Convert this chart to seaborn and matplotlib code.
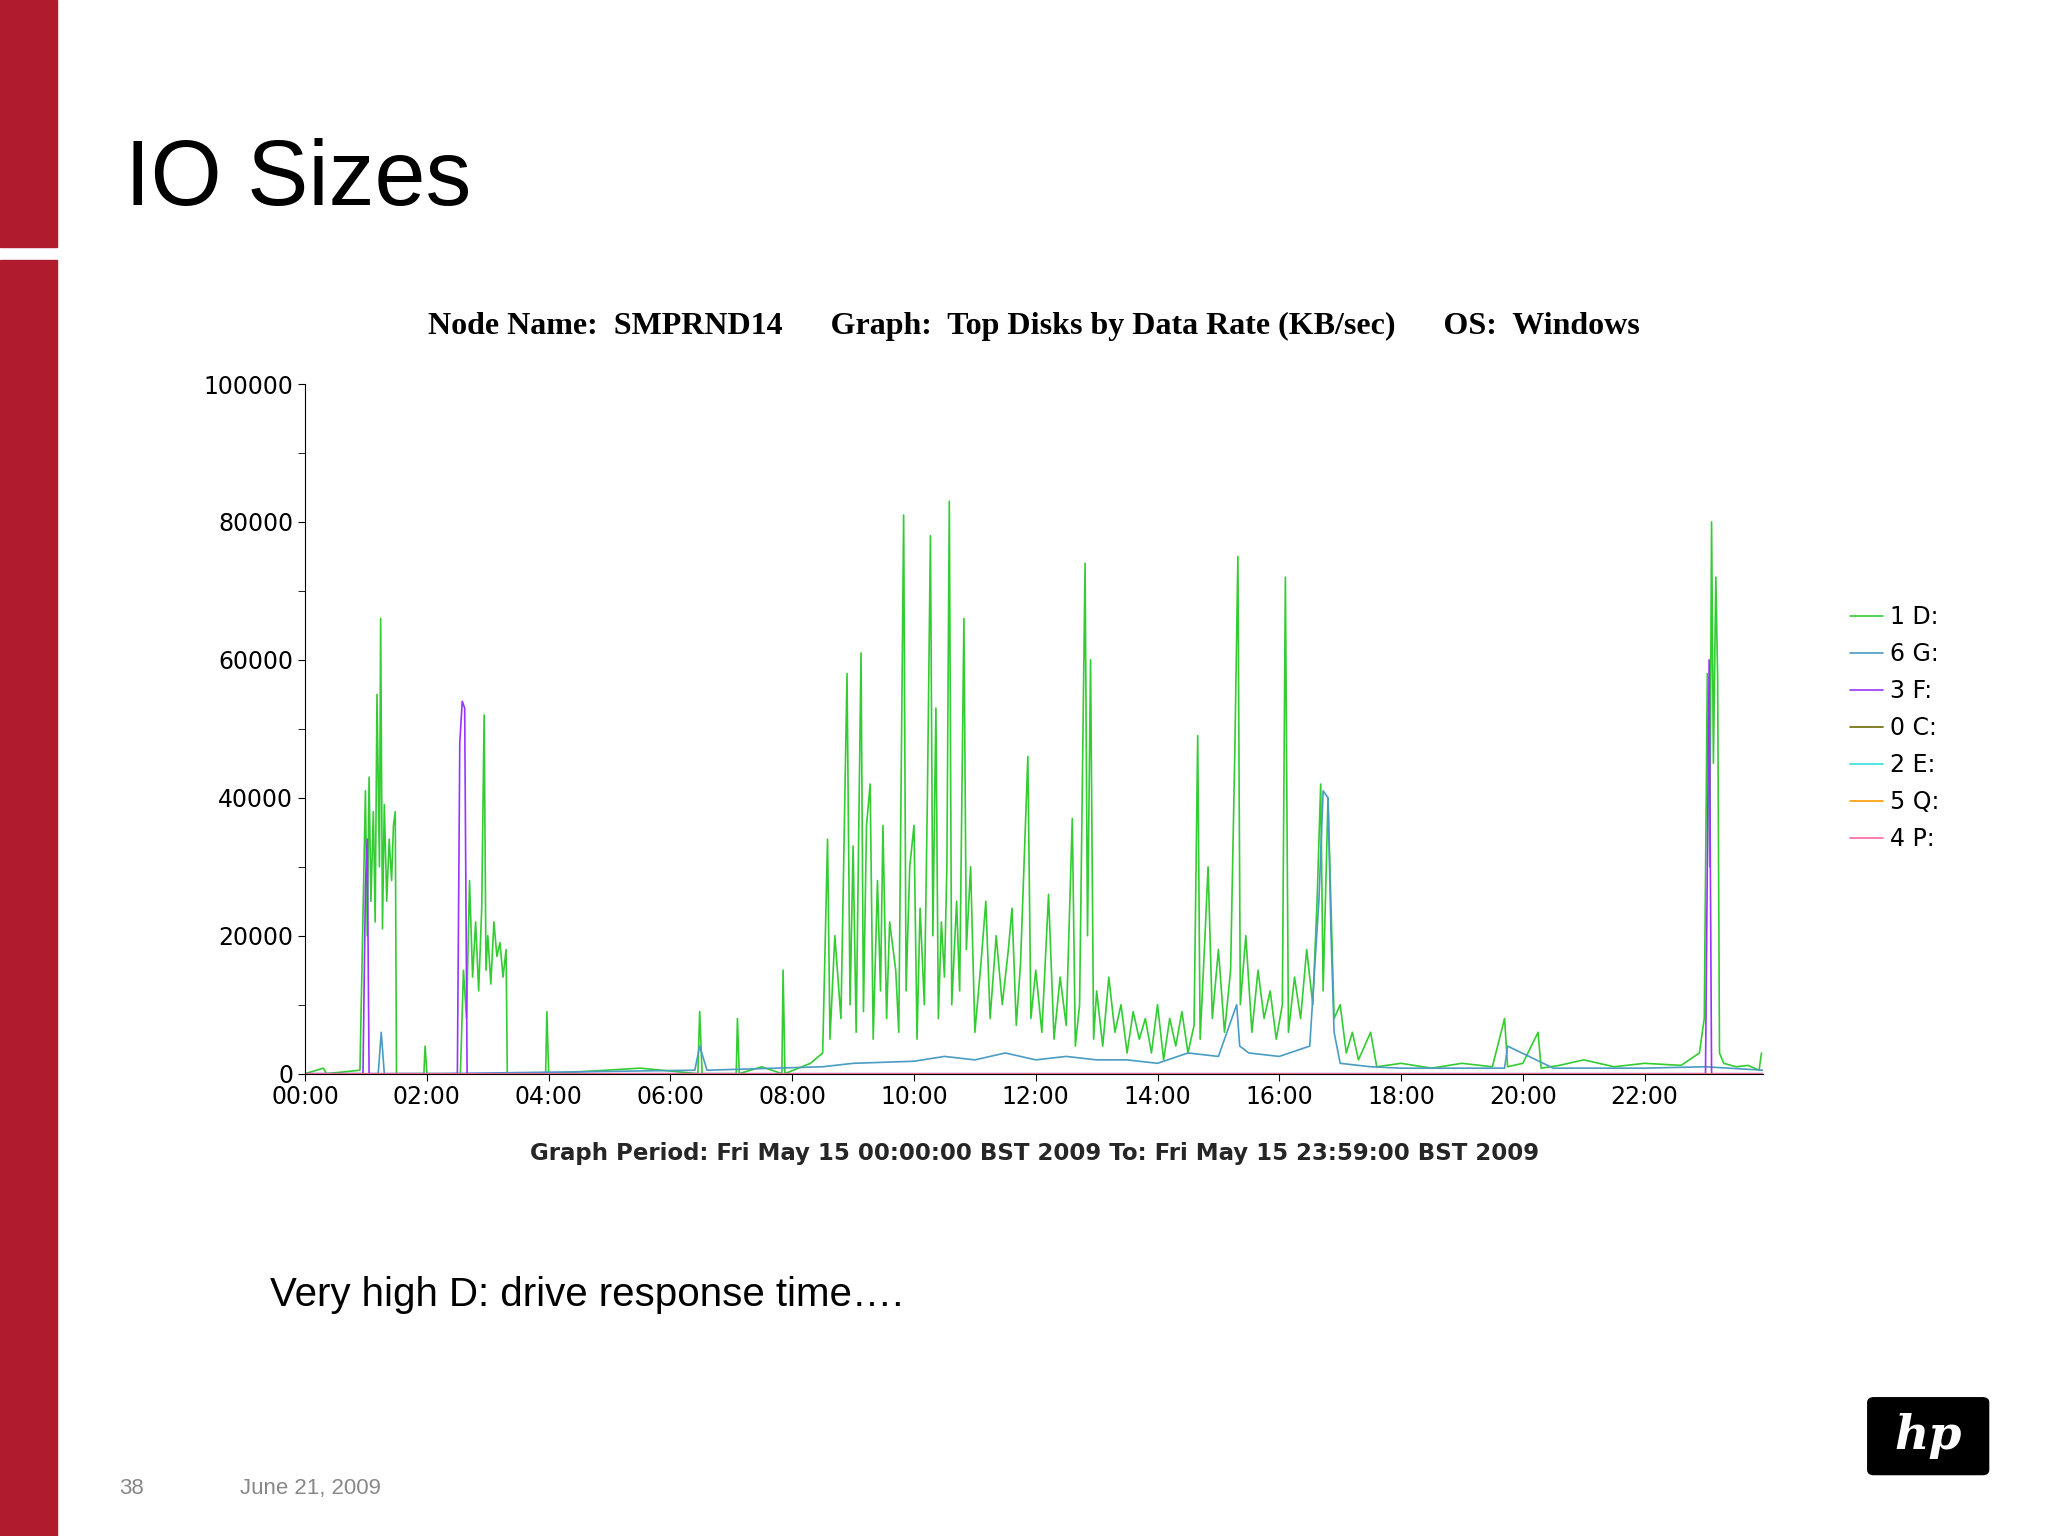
import numpy as np
import pandas as pd
import seaborn as sns
import matplotlib.pyplot as plt
from matplotlib.patches import FancyBboxPatch

sns.set_style("white")
plt.rcParams["text.color"] = "black"
plt.rcParams["xtick.color"] = "black"
plt.rcParams["ytick.color"] = "black"

# data (hour of day, KB/sec)
d_hours = [0.0, 0.3, 0.35, 0.9, 0.99, 1.02, 1.05, 1.08, 1.12, 1.15, 1.18, 1.22, 1.24, 1.27, 1.3, 1.34, 1.38, 1.42, 1.45, 1.48, 1.5,
           1.95, 1.97, 2.0, 2.55, 2.6, 2.65, 2.7, 2.75, 2.8, 2.85, 2.9, 2.94, 2.97, 3.0, 3.05, 3.1, 3.15, 3.2, 3.25, 3.3, 3.32,
           3.95, 3.97, 4.0, 5.5, 6.45, 6.48, 6.52, 7.08, 7.1, 7.13, 7.5, 7.83, 7.85, 7.88, 8.3, 8.5, 8.58, 8.62, 8.7, 8.8, 8.9, 8.95,
           9.0, 9.05, 9.1, 9.13, 9.17, 9.22, 9.28, 9.33, 9.4, 9.45, 9.49, 9.55, 9.6, 9.7, 9.75, 9.83, 9.87, 9.93, 10.0, 10.05, 10.1,
           10.17, 10.22, 10.27, 10.31, 10.36, 10.4, 10.45, 10.5, 10.54, 10.58, 10.62, 10.7, 10.75, 10.82, 10.86, 10.93, 11.0, 11.1,
           11.18, 11.25, 11.35, 11.45, 11.55, 11.61, 11.68, 11.75, 11.87, 11.92, 12.0, 12.1, 12.21, 12.3, 12.4, 12.5, 12.6, 12.65,
           12.72, 12.81, 12.85, 12.9, 12.95, 13.0, 13.1, 13.2, 13.3, 13.4, 13.5, 13.6, 13.7, 13.8, 13.9, 14.0, 14.1, 14.2, 14.3,
           14.4, 14.5, 14.6, 14.66, 14.7, 14.78, 14.83, 14.9, 15.0, 15.1, 15.2, 15.27, 15.32, 15.36, 15.45, 15.55, 15.65, 15.75,
           15.85, 15.95, 16.05, 16.1, 16.15, 16.25, 16.35, 16.45, 16.55, 16.62, 16.68, 16.72, 16.8, 16.9, 17.0, 17.1, 17.2, 17.3,
           17.4, 17.5, 17.6, 18.0, 18.5, 19.0, 19.5, 19.7, 19.75, 20.0, 20.25, 20.3, 20.6, 21.0, 21.5, 22.0, 22.6, 22.9, 22.98,
           23.03, 23.07, 23.1, 23.13, 23.17, 23.2, 23.23, 23.3, 23.5, 23.7, 23.88, 23.92]
d_vals = [0, 800, 0, 500, 41000, 20000, 43000, 25000, 38000, 22000, 55000, 30000, 66000, 21000, 39000, 25000, 34000, 28000, 36000, 38000, 0,
          0, 4000, 0, 0, 15000, 8000, 28000, 14000, 22000, 12000, 24000, 52000, 15000, 20000, 13000, 22000, 17000, 19000, 14000, 18000, 0,
          0, 9000, 0, 800, 0, 9000, 0, 0, 8000, 0, 1000, 0, 15000, 0, 1500, 3000, 34000, 5000, 20000, 8000, 58000, 10000,
          33000, 6000, 40000, 61000, 9000, 36000, 42000, 5000, 28000, 12000, 36000, 8000, 22000, 15000, 6000, 81000, 12000, 30000, 36000, 5000, 24000,
          10000, 40000, 78000, 20000, 53000, 8000, 22000, 14000, 30000, 83000, 10000, 25000, 12000, 66000, 18000, 30000, 6000, 16000,
          25000, 8000, 20000, 10000, 18000, 24000, 7000, 16000, 46000, 8000, 15000, 6000, 26000, 5000, 14000, 7000, 37000, 4000,
          10000, 74000, 20000, 60000, 5000, 12000, 4000, 14000, 6000, 10000, 3000, 9000, 5000, 8000, 3000, 10000, 2000, 8000, 4000,
          9000, 3000, 7000, 49000, 5000, 20000, 30000, 8000, 18000, 6000, 15000, 47000, 75000, 10000, 20000, 6000, 15000, 8000,
          12000, 5000, 10000, 72000, 6000, 14000, 8000, 18000, 10000, 25000, 42000, 12000, 40000, 8000, 10000, 3000, 6000, 2000,
          4000, 6000, 1000, 1500, 800, 1500, 1000, 8000, 1000, 1500, 6000, 800, 1200, 2000, 1000, 1500, 1200, 3000, 8000,
          58000, 30000, 80000, 45000, 72000, 57000, 3000, 1500, 1000, 1200, 500, 3000]
g_hours = [0.0, 1.2, 1.25, 1.3, 2.2, 6.4, 6.48, 6.6, 8.5, 9.0, 10.0, 10.5, 11.0, 11.5, 12.0, 12.5, 13.0, 13.5, 14.0, 14.5, 15.0,
           15.3, 15.35, 15.5, 16.0, 16.5, 16.65, 16.72, 16.8, 16.85, 16.9, 17.0, 17.5, 18.0, 19.0, 19.7, 19.75, 20.5, 22.0, 23.0, 23.95]
g_vals = [0, 0, 6000, 0, 0, 500, 4000, 500, 1000, 1500, 1800, 2500, 2000, 3000, 2000, 2500, 2000, 2000, 1500, 3000, 2500,
          10000, 4000, 3000, 2500, 4000, 25000, 41000, 40000, 20000, 6000, 1500, 1000, 800, 800, 800, 4000, 800, 800, 1000, 500]
f_hours = [0.0, 0.95, 0.99, 1.02, 1.05, 2.5, 2.54, 2.58, 2.62, 2.66, 23.0, 23.03, 23.06, 23.1, 23.95]
f_vals = [0, 0, 27000, 34000, 0, 0, 48000, 54000, 53000, 0, 0, 30000, 60000, 0, 0]
flat_hours = [0.0, 23.95]
flat_vals = [0, 0]

series = [("1 D:", "#33cc33", d_hours, d_vals),
          ("6 G:", "#4a9cc2", g_hours, g_vals),
          ("3 F:", "#9933ff", f_hours, f_vals),
          ("0 C:", "#6b6b00", flat_hours, flat_vals),
          ("2 E:", "#33e0e0", flat_hours, flat_vals),
          ("5 Q:", "#ff9900", flat_hours, flat_vals),
          ("4 P:", "#ff66aa", flat_hours, flat_vals)]

fig = plt.figure(figsize=(20.48, 15.36), dpi=100)
fig.patch.set_facecolor("white")

# slide decorations
fig.add_artist(plt.Rectangle((0, 0), 0.028, 0.831, transform=fig.transFigure, color="#b01c2e"))
fig.add_artist(plt.Rectangle((0, 0.839), 0.028, 0.161, transform=fig.transFigure, color="#b01c2e"))
fig.text(0.061, 0.882, "IO Sizes", fontsize=66, va="center", family="Liberation Sans")
fig.text(0.132, 0.157, "Very high D: drive response time\u2026.", fontsize=29, va="center", family="Liberation Sans")
fig.text(0.058, 0.031, "38", fontsize=16, color="#888888", va="center", family="Liberation Sans")
fig.text(0.117, 0.031, "June 21, 2009", fontsize=16, color="#888888", va="center", family="Liberation Sans")
fig.add_artist(FancyBboxPatch((0.915, 0.043), 0.053, 0.044, boxstyle="round,pad=0.003",
                              transform=fig.transFigure, color="black"))
fig.text(0.9415, 0.065, "hp", fontsize=34, color="white", ha="center", va="center",
         style="italic", weight="bold", family="DejaVu Serif")

ax = fig.add_axes([0.149, 0.301, 0.712, 0.449])
for name, color, hrs, vals in series:
    df = pd.DataFrame({"hour": hrs, "rate": vals})
    sns.lineplot(data=df, x="hour", y="rate", color=color, lw=1.2, ax=ax, label=name, estimator=None)

ax.set_xlim(0, 23.95)
ax.set_ylim(0, 100000)
ax.set_xticks(range(0, 24, 2))
ax.set_xticklabels([f"{h:02d}:00" for h in range(0, 24, 2)])
ax.set_yticks(range(0, 100001, 20000))
ax.set_yticks(range(0, 100001, 10000), minor=True)
ax.tick_params(axis="both", which="both", direction="out", length=5, labelsize=17, left=True, bottom=True)
ax.tick_params(axis="x", pad=3)
for s in ["top", "right"]:
    ax.spines[s].set_visible(False)
for s in ["left", "bottom"]:
    ax.spines[s].set_color("black")
ax.set_xlabel("Graph Period: Fri May 15 00:00:00 BST 2009 To: Fri May 15 23:59:00 BST 2009",
              fontsize=16.5, weight="bold", labelpad=24, family="DejaVu Sans")
ax.set_ylabel("")
ax.set_title("Node Name:  SMPRND14      Graph:  Top Disks by Data Rate (KB/sec)      OS:  Windows",
             fontsize=23, weight="bold", family="Liberation Serif", pad=36)
leg = ax.legend(loc="upper left", bbox_to_anchor=(1.045, 0.71), frameon=False, fontsize=17,
                handlelength=1.4, handletextpad=0.3, labelspacing=0.55)

plt.savefig("out.png", dpi=100)
